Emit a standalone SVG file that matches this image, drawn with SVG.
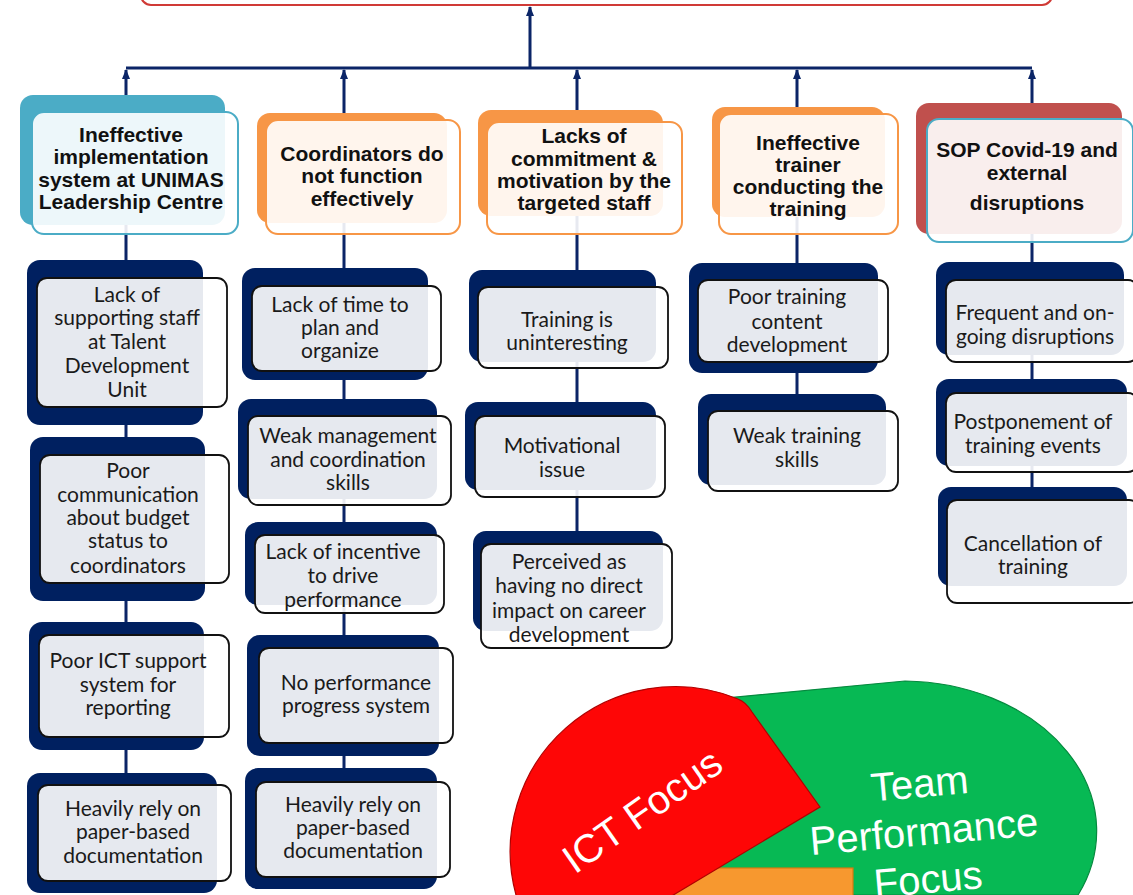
<svg xmlns="http://www.w3.org/2000/svg" width="1133" height="895" viewBox="0 0 1133 895">
<defs>
<marker id="ah" markerWidth="10" markerHeight="8" refX="9" refY="4" orient="auto" markerUnits="userSpaceOnUse" viewBox="0 0 10 8">
<path d="M0,0 L10,4 L0,8 Z" fill="#0B2567"/>
</marker>
<style>
.hb{font-family:"Liberation Sans",Arial,sans-serif;font-weight:bold;font-size:21px;fill:#111;text-anchor:middle}
.ct{font-family:Lato,"Open Sans",sans-serif;font-size:21px;fill:#1a1a1a;text-anchor:middle}
.back{fill:#002060}
.front{fill:#fff;fill-opacity:0.9;stroke:#111;stroke-width:1.8}
.conn{stroke:#0B2567;stroke-width:3;fill:none}
.teal{fill:#4BACC6}
.orng{fill:#F79646}
.dred{fill:#C0504D}
.hf{fill:#fff;fill-opacity:0.9;stroke-width:2}
.wt{font-family:"Liberation Sans",Arial,sans-serif;font-size:40px;fill:#fff;text-anchor:middle}
</style>
</defs>
<rect width="1133" height="895" fill="#fff"/>

<g id="goal">
<rect x="141" y="-40" width="911" height="45" rx="10" fill="#fff" stroke="#D03A36" stroke-width="2.2"/>
</g>

<g id="connectors">
<path class="conn" d="M530,68 L530,7" marker-end="url(#ah)"/>
<path class="conn" d="M126,68 L1032,68"/>
<path class="conn" d="M126,780 L126,70" marker-end="url(#ah)"/>
<path class="conn" d="M344,780 L344,70" marker-end="url(#ah)"/>
<path class="conn" d="M577,560 L577,70" marker-end="url(#ah)"/>
<path class="conn" d="M797,410 L797,70" marker-end="url(#ah)"/>
<path class="conn" d="M1032,500 L1032,70" marker-end="url(#ah)"/>
</g>

<g id="h1">
<rect class="teal" x="20" y="95" width="205" height="130" rx="13"/>
<rect class="hf" x="32" y="112" width="206" height="122" rx="12" stroke="#4BACC6"/>
<text class="hb"><tspan x="131" y="142">Ineffective</tspan><tspan x="131" y="164">implementation</tspan><tspan x="131" y="187">system at UNIMAS</tspan><tspan x="131" y="209">Leadership Centre</tspan></text>
</g>
<g id="h2">
<rect class="orng" x="257" y="113" width="190" height="110" rx="13"/>
<rect class="hf" x="266" y="120" width="194" height="114" rx="12" stroke="#F79646"/>
<text class="hb"><tspan x="362" y="161">Coordinators do</tspan><tspan x="362" y="183">not function</tspan><tspan x="362" y="206">effectively</tspan></text>
</g>
<g id="h3">
<rect class="orng" x="478" y="110" width="185" height="106" rx="13"/>
<rect class="hf" x="487" y="122" width="195" height="112" rx="12" stroke="#F79646"/>
<text class="hb"><tspan x="584" y="143">Lacks of</tspan><tspan x="584" y="166">commitment &amp;</tspan><tspan x="584" y="188">motivation by the</tspan><tspan x="584" y="210">targeted staff</tspan></text>
</g>
<g id="h4">
<rect class="orng" x="712" y="107" width="173" height="110" rx="13"/>
<rect class="hf" x="719" y="114" width="179" height="120" rx="12" stroke="#F79646"/>
<text class="hb"><tspan x="808" y="150">Ineffective</tspan><tspan x="808" y="172">trainer</tspan><tspan x="808" y="194">conducting the</tspan><tspan x="808" y="216">training</tspan></text>
</g>
<g id="h5">
<rect class="dred" x="916" y="103" width="206" height="131" rx="13"/>
<rect class="hf" x="927" y="119" width="206" height="123" rx="12" stroke="#4BACC6"/>
<text class="hb"><tspan x="1027" y="157">SOP Covid-19 and</tspan><tspan x="1027" y="180">external</tspan><tspan x="1027" y="210">disruptions</tspan></text>
</g>

<g id="c1a">
<rect class="back" x="27" y="260" width="176" height="165" rx="13"/>
<rect class="front" x="37" y="278" width="190" height="129" rx="10"/>
<text class="ct"><tspan x="127" y="302">Lack of</tspan><tspan x="127" y="325">supporting staff</tspan><tspan x="127" y="349">at Talent</tspan><tspan x="127" y="373">Development</tspan><tspan x="127" y="397">Unit</tspan></text>
</g>
<g id="c1b">
<rect class="back" x="30" y="437" width="175" height="164" rx="13"/>
<rect class="front" x="40" y="455" width="189" height="128" rx="10"/>
<text class="ct"><tspan x="128" y="478">Poor</tspan><tspan x="128" y="502">communication</tspan><tspan x="128" y="525">about budget</tspan><tspan x="128" y="548">status to</tspan><tspan x="128" y="573">coordinators</tspan></text>
</g>
<g id="c1c">
<rect class="back" x="29" y="622" width="175" height="128" rx="13"/>
<rect class="front" x="39" y="635" width="190" height="102" rx="10"/>
<text class="ct"><tspan x="128" y="668">Poor ICT support</tspan><tspan x="128" y="692">system for</tspan><tspan x="128" y="715">reporting</tspan></text>
</g>
<g id="c1d">
<rect class="back" x="27" y="773" width="190" height="120" rx="13"/>
<rect class="front" x="38" y="785" width="193" height="96" rx="10"/>
<text class="ct"><tspan x="133" y="816">Heavily rely on</tspan><tspan x="133" y="839">paper-based</tspan><tspan x="133" y="863">documentation</tspan></text>
</g>

<g id="c2a">
<rect class="back" x="242" y="268" width="186" height="112" rx="13"/>
<rect class="front" x="252" y="286" width="189" height="85" rx="10"/>
<text class="ct"><tspan x="340" y="312">Lack of time to</tspan><tspan x="340" y="335">plan and</tspan><tspan x="340" y="358">organize</tspan></text>
</g>
<g id="c2b">
<rect class="back" x="238" y="399" width="199" height="100" rx="13"/>
<rect class="front" x="248" y="416" width="203" height="89" rx="10"/>
<text class="ct"><tspan x="348" y="443">Weak management</tspan><tspan x="348" y="467">and coordination</tspan><tspan x="348" y="490">skills</tspan></text>
</g>
<g id="c2c">
<rect class="back" x="245" y="522" width="192" height="83" rx="13"/>
<rect class="front" x="255" y="535" width="189" height="78" rx="10"/>
<text class="ct"><tspan x="343" y="559">Lack of incentive</tspan><tspan x="343" y="583">to drive</tspan><tspan x="343" y="607">performance</tspan></text>
</g>
<g id="c2d">
<rect class="back" x="247" y="635" width="192" height="121" rx="13"/>
<rect class="front" x="259" y="648" width="194" height="95" rx="10"/>
<text class="ct"><tspan x="356" y="690">No performance</tspan><tspan x="356" y="713">progress system</tspan></text>
</g>
<g id="c2e">
<rect class="back" x="245" y="768" width="192" height="121" rx="13"/>
<rect class="front" x="256" y="782" width="194" height="95" rx="10"/>
<text class="ct"><tspan x="353" y="812">Heavily rely on</tspan><tspan x="353" y="835">paper-based</tspan><tspan x="353" y="858">documentation</tspan></text>
</g>

<g id="c3a">
<rect class="back" x="469" y="270" width="187" height="92" rx="13"/>
<rect class="front" x="478" y="287" width="190" height="81" rx="10"/>
<text class="ct"><tspan x="567" y="327">Training is</tspan><tspan x="567" y="350">uninteresting</tspan></text>
</g>
<g id="c3b">
<rect class="back" x="465" y="402" width="191" height="88" rx="13"/>
<rect class="front" x="475" y="416" width="190" height="81" rx="10"/>
<text class="ct"><tspan x="562" y="453">Motivational</tspan><tspan x="562" y="477">issue</tspan></text>
</g>
<g id="c3c">
<rect class="back" x="473" y="531" width="190" height="100" rx="13"/>
<rect class="front" x="481" y="544" width="191" height="104" rx="10"/>
<text class="ct"><tspan x="569" y="569">Perceived as</tspan><tspan x="569" y="593">having no direct</tspan><tspan x="569" y="618">impact on career</tspan><tspan x="569" y="642">development</tspan></text>
</g>

<g id="c4a">
<rect class="back" x="689" y="263" width="189" height="110" rx="13"/>
<rect class="front" x="698" y="280" width="190" height="82" rx="10"/>
<text class="ct"><tspan x="787" y="304">Poor training</tspan><tspan x="787" y="329">content</tspan><tspan x="787" y="352">development</tspan></text>
</g>
<g id="c4b">
<rect class="back" x="698" y="394" width="188" height="91" rx="13"/>
<rect class="front" x="708" y="411" width="190" height="80" rx="10"/>
<text class="ct"><tspan x="797" y="443">Weak training</tspan><tspan x="797" y="467">skills</tspan></text>
</g>

<g id="c5a">
<rect class="back" x="936" y="262" width="188" height="93" rx="13"/>
<rect class="front" x="946" y="280" width="192" height="82" rx="10"/>
<text class="ct"><tspan x="1035" y="320">Frequent and on-</tspan><tspan x="1035" y="344">going disruptions</tspan></text>
</g>
<g id="c5b">
<rect class="back" x="936" y="379" width="191" height="87" rx="13"/>
<rect class="front" x="946" y="393" width="192" height="79" rx="10"/>
<text class="ct"><tspan x="1033" y="429">Postponement of</tspan><tspan x="1033" y="453">training events</tspan></text>
</g>
<g id="c5c">
<rect class="back" x="938" y="487" width="189" height="99" rx="13"/>
<rect class="front" x="947" y="500" width="192" height="103" rx="10"/>
<text class="ct"><tspan x="1033" y="551">Cancellation of</tspan><tspan x="1033" y="574">training</tspan></text>
</g>

<g id="focus-graphic">
<path d="M620,708 L905,681 A195 150 0 0 1 1078,895 L620,895 Z" fill="#07B954" stroke="#05893E" stroke-width="1.2"/>
<rect x="660" y="868" width="193" height="40" fill="#F7982F" stroke="#D77A10" stroke-width="1.2"/>
<path d="M820,807 L752,712 Q746,702 738,699 A165 165 0 0 0 516,895 L516,900 L665,900 Z" fill="#FE0606" stroke="#B00000" stroke-width="1.2"/>
<text class="wt" transform="translate(650,822) rotate(-35)" x="0" y="0">ICT Focus</text>
<text class="wt" transform="translate(925,845) rotate(-5)"><tspan x="0" y="-48">Team</tspan><tspan x="0" y="0">Performance</tspan><tspan x="0" y="48">Focus</tspan></text>
</g>
</svg>
